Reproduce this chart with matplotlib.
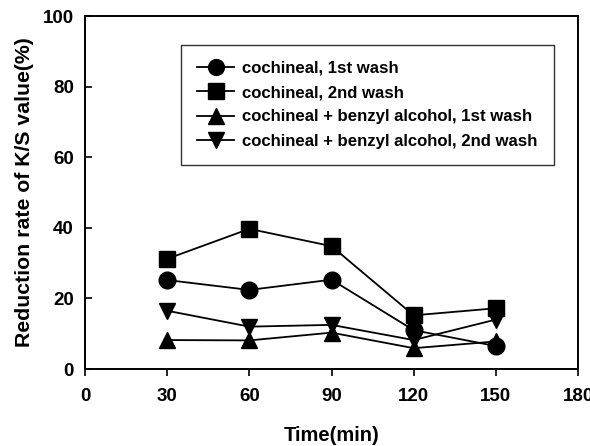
import matplotlib
matplotlib.use("Agg")
import matplotlib.pyplot as plt

plt.rcParams['font.family'] = ['Liberation Sans', 'DejaVu Sans']
plt.rcParams['font.weight'] = 'bold'

time_min = [30, 60, 90, 120, 150]
coch_1st = [25.2, 22.4, 25.3, 11.0, 6.5]
coch_2nd = [31.2, 39.7, 34.8, 15.2, 17.2]
benz_1st = [8.2, 8.1, 10.3, 5.9, 7.8]
benz_2nd = [16.5, 12.0, 12.5, 8.2, 14.0]

labels = ["cochineal, 1st wash", "cochineal, 2nd wash",
          "cochineal + benzyl alcohol, 1st wash",
          "cochineal + benzyl alcohol, 2nd wash"]
markers = ['o', 's', '^', 'v']

fig = plt.figure(figsize=(5.9, 4.46), dpi=100)
ax = fig.add_axes([85/590, 77/446, 493/590, 353/446])

for ys, m, lab in zip([coch_1st, coch_2nd, benz_1st, benz_2nd], markers, labels):
    ax.plot(time_min, ys, color='black', lw=1.3, marker=m, ms=12, label=lab)

ax.set_xlim(0, 180)
ax.set_ylim(0, 100)
ax.set_xticks(range(0, 181, 30))
ax.set_yticks(range(0, 101, 20))
ax.tick_params(axis='x', direction='out', length=5, width=1.2, labelsize=13.5, pad=9)
ax.tick_params(axis='y', direction='in', length=5, width=1.2, labelsize=13.5, pad=8)
for s in ax.spines.values():
    s.set_linewidth(1.4)
ax.set_xlabel("Time(min)", fontsize=14.5, fontweight='bold', labelpad=15)
ax.set_ylabel("Reduction rate of K/S value(%)", fontsize=15.3, fontweight='bold', labelpad=6)

leg = ax.legend(loc='upper left', bbox_to_anchor=(0.195, 0.918), borderaxespad=0,
                fontsize=12.1, frameon=True, fancybox=False, edgecolor='black',
                handlelength=2.2, borderpad=0.95, labelspacing=0.55,
                handletextpad=0.5, markerscale=0.95)
leg.get_frame().set_linewidth(1.0)

fig.savefig("out.png", dpi=100)
